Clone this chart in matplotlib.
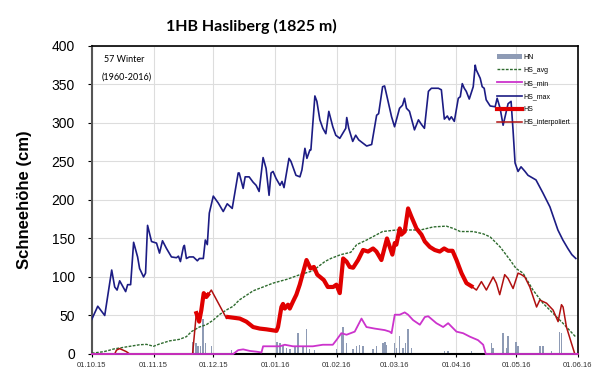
import numpy as np
import pandas as pd
import matplotlib
matplotlib.use("Agg")
import matplotlib.pyplot as plt

# days counted from 01.10.2015
start = pd.Timestamp("2015-10-01")
months = pd.date_range("2015-10-01", "2016-06-01", freq="MS")
month_days = [(m - start).days for m in months]
month_labels = [m.strftime("%d.%m.%y") for m in months]

hn_days = [50.9, 52.2, 53.4, 54.6, 55.9, 57.2, 60.1, 70.1, 92.9, 94.4, 96, 97.7, 99.4,
           101.9, 103.6, 106.1, 107.8, 109.4, 111.9, 122.8, 125.3, 126.2, 127.9, 131.2,
           132.9, 134.5, 136.2, 141.2, 142.9, 146.2, 147.1, 147.9, 152.1, 153, 154.6,
           156.3, 157.6, 158.8, 160.5, 177.2, 178.9, 190.6, 200.7, 201.5, 206.5, 208.2,
           209, 212.9, 214, 224.9, 226.6, 230.8, 234.9, 235.8]
hn_vals = [16, 14, 10, 10, 45, 14, 10, 5, 16, 14, 12, 8, 7,
           10, 27, 10, 33, 7, 5, 7, 27, 35, 14, 7,
           10, 12, 10, 7, 10, 14, 16, 12, 14, 8, 23,
           8, 14, 33, 8, 4, 4, 4, 14, 8, 27, 8,
           23, 16, 10, 10, 10, 4, 29, 27]

avg_days = [0, 6, 9, 11, 18, 24, 27.5, 31, 34, 39, 44, 47.5, 50, 54, 57.5, 61, 64, 67.5,
            71, 74, 77.5, 81, 86, 91, 98, 104.5, 111, 117, 120, 125, 130, 133, 138, 146,
            153, 158, 165, 171.5, 178, 181.5, 185, 191.5, 196.5, 200, 205, 210, 213,
            216.5, 221.5, 226.5, 231.5, 236.5, 243]
avg_vals = [1, 3, 5, 6.5, 9.5, 12, 12.5, 10, 13, 17, 19, 22.5, 29, 35, 38, 44, 51, 57,
            62, 70, 76, 82, 87, 92, 97, 103, 108, 120, 124, 129, 132, 142, 148, 159,
            161, 161, 161, 165, 166, 163, 159, 159, 156, 152, 139, 122, 111,
            105, 83, 66, 53, 40, 22]

min_days = [0, 71, 73.5, 76, 79.3, 82.7, 85.2, 86, 94.4, 96.9, 101, 104.4, 111, 116, 121,
            122.8, 125.3, 127.9, 132, 135.4, 137.9, 142, 147.1, 149.6, 150.5, 152.1,
            154.6, 157.1, 158.8, 161.3, 164.7, 167.2, 168.9, 173, 176.4, 178.9, 183.1,
            186.4, 189.8, 193.9, 196.5, 197.8, 244]
min_vals = [0, 0, 5, 6, 4, 3, 2, 10, 10, 12, 10, 10, 10, 12, 12,
            18, 27, 25, 29, 46, 35, 33, 31, 29, 27, 51,
            51, 54, 51, 44, 38, 48, 49, 40, 35, 40, 29,
            27, 22.5, 18, 12, 0, 0]

max_days = [0, 3, 6.5, 10, 11.5, 12.7, 14, 17, 18, 19.5, 21, 23, 24, 26, 27, 28, 30, 32.5,
            34, 35.5, 37.5, 40, 42.5, 43.5, 44.5, 46, 46.5, 47.5, 49, 51, 53, 54, 56, 57,
            58, 59, 61, 63.5, 66, 68, 70.5, 73.5, 74, 76, 77, 79, 81, 82.5, 84, 86, 87.5,
            89, 90, 91, 92.5, 94.5, 95.5, 96.5, 99, 100, 102.5, 104.5, 105.5, 107, 108,
            109.5, 110, 112, 113, 114.5, 116, 117.5, 119, 121, 122.5, 124.5, 127.5, 128,
            129, 131, 132.5, 134, 136, 138, 140.5, 142, 143, 144, 145.5, 146, 147, 149,
            150.5, 152, 154.5, 156, 157, 158, 159.5, 162, 164, 165.5, 167, 169, 170.5,
            174, 175.5, 177, 178.5, 179.5, 180.5, 182, 184, 185, 186, 187, 188, 189.5,
            191.5, 192.5, 193, 195, 196, 197, 198, 200, 202.5, 203.5, 205, 206.5, 207.5,
            209, 210.5, 211.5, 212.5, 214, 215.5, 217.5, 219, 223, 226.5, 230, 232.5,
            234, 236.5, 239, 241, 243]
max_vals = [45, 62, 50, 109, 87, 83, 95, 81, 90, 90, 145, 126, 111, 100, 105, 167, 146, 144,
            131, 147, 137, 126, 125, 127, 120, 139, 141, 124, 126, 126, 121, 124, 124, 148,
            142, 183, 205, 196, 185, 195, 189, 235, 235, 215, 230, 230, 223, 219, 211, 255, 241,
            206, 235, 237, 228, 219, 224, 216, 254, 250, 232, 230, 239, 267, 254,
            265, 265, 335, 328, 304, 293, 286, 315, 295, 284, 280, 293, 307,
            293, 276, 284, 278, 274, 270, 272, 295, 310, 312, 338, 347, 348, 325,
            308, 295, 319, 323, 332, 319, 315, 291, 304, 298, 293, 341, 345,
            345, 343, 305, 309, 304, 308, 302, 332, 334, 351, 345, 341, 331,
            347, 375, 369, 358, 347, 345, 330, 322, 321, 332, 319, 297, 308,
            325, 328, 290, 248, 237, 243, 237, 232, 226, 209, 191, 172,
            161, 148, 137, 129, 124]

hs_days = [0, 11.5, 12.4, 14, 17.4, 19, 50.6, 52.5, 53.9, 55, 56.2, 57.5, 58.4, 60, 67.7,
           68.4, 74.3, 77.6, 81, 84.3, 87.7, 92.7, 93.5, 95.2, 96, 96.9, 98.5, 99.4, 101,
           102.7, 104.4, 107.8, 109.8, 111.5, 113.2, 116.5, 118.5, 121.2, 122.8, 124.5,
           126.2, 127.9, 129.5, 131.2, 133.7, 136.2, 138.7, 141.2, 142.9, 145.4, 148.2,
           149.6, 150.9, 152.1, 152.9, 154.6, 155.4, 157.1, 158.8, 160.5, 163, 165.5,
           167.2, 169.7, 172.2, 174.7, 176.9, 178.9, 181.1, 183.1, 185.6, 188.1, 190.6,
           193.1, 195.6, 198.1, 201.5, 203.1, 204.8, 207.3, 209, 211.5, 214, 215.7, 217.4,
           219.9, 223.3, 224.9, 228.3, 231.6, 234.1, 235.8, 236.6, 238.3, 240.8, 242.5, 244]
hs_vals = [0, 0, 5, 7, 3, 0, 0, 53, 42, 57, 79, 74, 77, 83, 46,
           48, 46, 42, 35, 33, 32, 30, 35, 61, 65, 59, 64, 59, 68,
           77, 90, 122, 111, 113, 103, 96, 87, 87, 90, 79,
           124, 120, 113, 112, 122, 135, 133, 137, 133, 122, 150,
           139, 129, 144, 142, 163, 155, 159, 189, 178, 163, 155,
           146, 139, 135, 133, 137, 134, 134, 122, 105, 92, 88,
           83, 94, 83, 100, 92, 77, 103, 98, 85, 105, 103, 100,
           87, 61, 70, 66, 57, 42, 64, 61, 35, 14, 0, 0]
# periods with measured HS (thick line), rest is interpolated
measured = [(52.5, 58.4), (68.4, 190.6)]

fig = plt.figure(figsize=(6.16, 3.89), dpi=100)
ax = fig.add_axes([0.149, 0.09, 0.789, 0.792])

hs_d = np.array(hs_days)
hs_v = np.array(hs_vals, dtype=float)
mask = np.zeros(len(hs_d), dtype=bool)
for a, b in measured:
    mask |= (hs_d >= a) & (hs_d <= b)
hs_meas = np.where(mask, hs_v, np.nan)

bars = ax.bar(hn_days, hn_vals, width=0.75, color="#8e9bb5", label="HN", zorder=2)
l_avg, = ax.plot(avg_days, avg_vals, color="#2e6b2e", lw=1.0, ls=(0, (2, 1)), label="HS_avg", zorder=3)
l_int, = ax.plot(hs_d, hs_v, color="#b01010", lw=1.1, label="HS_interpoliert", zorder=4, clip_on=False)
l_min, = ax.plot(min_days, min_vals, color="#cc33cc", lw=1.3, label="HS_min", zorder=4, clip_on=False)
l_max, = ax.plot(max_days, max_vals, color="#1c1c84", lw=1.2, label="HS_max", zorder=3)
l_hs, = ax.plot(hs_d, hs_meas, color="#e00000", lw=3.0, label="HS", zorder=5)

ax.set_xlim(0, 244)
ax.set_ylim(0, 400)
ax.set_xticks(month_days)
ax.set_xticklabels(month_labels, fontsize=5.5, color="#333333", family="Liberation Sans")
ax.set_yticks(range(0, 401, 50))
ax.set_yticklabels([str(v) for v in range(0, 401, 50)], fontsize=10, family="Liberation Sans")
ax.tick_params(axis="y", length=3, pad=9)
ax.tick_params(axis="x", length=2, pad=4)
ax.grid(True, color="#dddddd", lw=0.8, zorder=0)
ax.set_axisbelow(True)
for side in ["top", "right"]:
    ax.spines[side].set_linewidth(1.2)
ax.spines["left"].set_linewidth(1.5)
ax.spines["left"].set_color("#555555")
ax.spines["bottom"].set_linewidth(1.5)

ax.set_ylabel("Schneehöhe (cm)", fontsize=12, fontweight="bold", labelpad=14,
              family="Liberation Sans")
fig.text(0.408, 0.932, "1HB Hasliberg (1825 m)", fontsize=11.5, fontweight="bold",
         family="Lato", ha="center", va="center")

ax.text(0.025, 0.955, "57 Winter", transform=ax.transAxes, fontsize=6.5, va="center",
        family="Lato")
ax.text(0.02, 0.90, "(1960-2016)", transform=ax.transAxes, fontsize=6.5, va="center",
        family="Lato")

ax.legend([bars, l_avg, l_min, l_max, l_hs, l_int],
          ["HN", "HS_avg", "HS_min", "HS_max", "HS", "HS_interpoliert"],
          loc="upper right", prop={"family": "Liberation Sans", "size": 5},
          frameon=False, handlelength=3.6, handletextpad=0.15, labelspacing=0.88,
          borderaxespad=0, borderpad=0, bbox_to_anchor=(0.9835, 0.975))

fig.savefig("out.png", dpi=100)
